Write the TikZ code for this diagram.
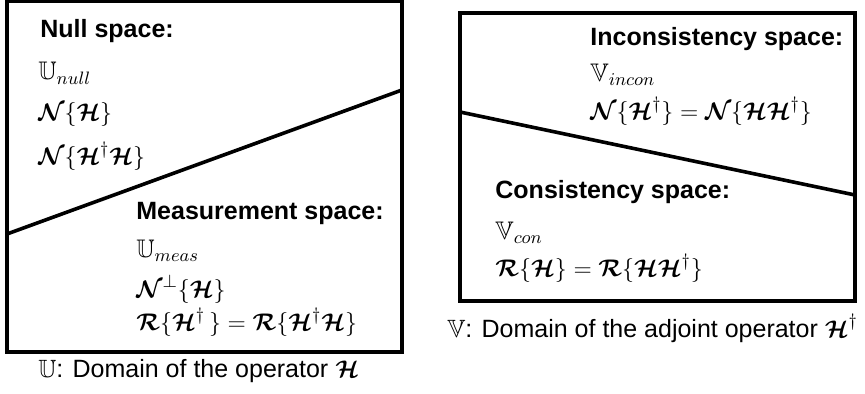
\documentclass[tikz,border=0pt]{standalone}
\usepackage{amsmath,amssymb,bm}
\usepackage{fontspec}
\setmainfont{Liberation Sans}
\usetikzlibrary{positioning}
\newcommand{\opH}{\bm{\mathcal{H}}}
\newcommand{\opN}{\bm{\mathcal{N}}}
\newcommand{\opR}{\bm{\mathcal{R}}}
\tikzset{
  frame/.style={draw, line width=1.6pt},
  split/.style={draw, line width=1.8pt},
  heading/.style={anchor=base west, inner sep=0pt, font=\fontsize{12.5}{15}\selectfont\bfseries},
  entry/.style={anchor=base west, inner sep=0pt, font=\fontsize{12.7}{15}\selectfont},
  caption/.style={anchor=base west, inner sep=0pt, font=\fontsize{12.5}{15}\selectfont},
}

\begin{document}
\begin{tikzpicture}[x=0.5pt, y=-0.5pt]
  \useasboundingbox (0,0) rectangle (865,394);
  % domain of H
  \draw[frame] (7,1.5) rectangle (402,352);
  \coordinate (uL) at (7,234);
  \coordinate (uR) at (402,90);
  \draw[split] (uL) -- (uR);
  \node[heading] (nullhead) at (40,38) {Null space:};
  \node[entry] (unull) at (38,80) {$\mathbb{U}_{null}$};
  \node[entry] (nh) at (38,121) {$\opN\{\opH\}$};
  \node[entry] (nhh) at (38,165) {$\opN\{\opH^{\dagger}\opH\}$};
  \node[heading] (meashead) at (136,220) {Measurement space:};
  \node[entry] (umeas) at (136,258) {$\mathbb{U}_{meas}$};
  \node[entry] (nperp) at (136,298) {$\opN^{\perp}\{\opH\}$};
  \node[entry] (rhh) at (136,331) {$\opR\{\opH^{\dagger}\,\} = \opR\{\opH^{\dagger}\opH\}$};
  \node[caption] (ucap) at (38,378) {$\mathbb{U}$: Domain of the operator $\opH$};
  % domain of the adjoint
  \draw[frame] (460,13) rectangle (855,301);
  \coordinate (vL) at (460,112);
  \coordinate (vR) at (855,195);
  \draw[split] (vL) -- (vR);
  \node[heading] (inconhead) at (590,46) {Inconsistency space:};
  \node[entry] (vincon) at (590,82) {$\mathbb{V}_{incon}$};
  \node[entry] (nhdag) at (590,120) {$\opN\{\opH^{\dagger}\} = \opN\{\opH\opH^{\dagger}\}$};
  \node[heading] (conhead) at (495,199) {Consistency space:};
  \node[entry] (vcon) at (495,240) {$\mathbb{V}_{con}$};
  \node[entry] (rh) at (495,277) {$\opR\{\opH\} = \opR\{\opH\opH^{\dagger}\}$};
  \node[caption] (vcap) at (447,337) {$\mathbb{V}$: Domain of the adjoint operator $\opH^{\dagger}$};
\end{tikzpicture}
\end{document}
